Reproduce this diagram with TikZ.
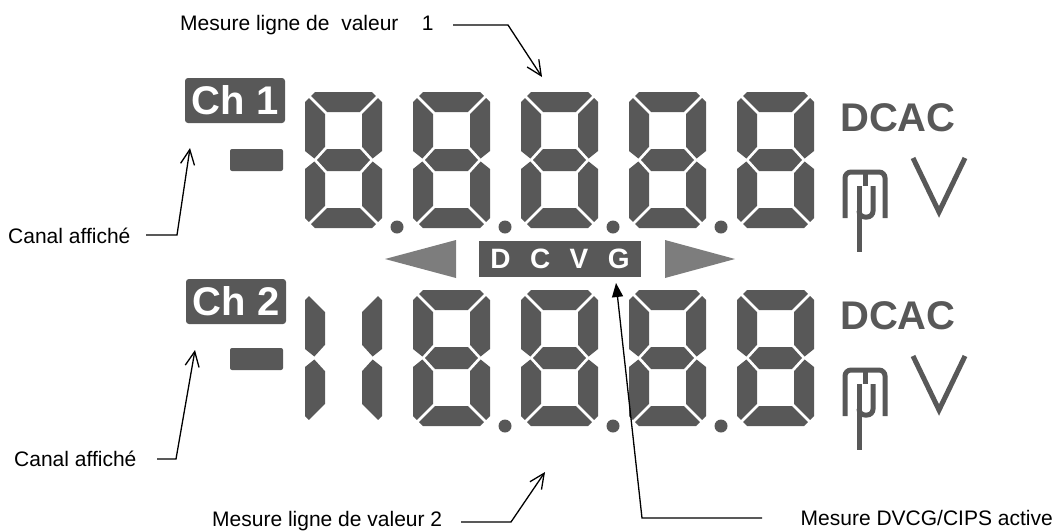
\documentclass[tikz,border=0pt]{standalone}
\usepackage{fontspec}
\setmainfont{Liberation Sans}
\usetikzlibrary{arrows.meta}
\definecolor{lcd}{RGB}{88,88,88}
\definecolor{lcdtri}{RGB}{125,125,125}

\tikzset{
  seg/.style={fill=lcd},
  % seven-segment pieces, local frame: 77 wide, 136 high, y downwards
  pics/sega/.style={code={\fill[seg] (10,0)--(67,0)--(70.95,3.95)--(54.9,20)--(22.1,20)--(6.05,3.95)--cycle;}},
  pics/segd/.style={code={\fill[seg] (10,136)--(67,136)--(70.95,132.05)--(54.9,116)--(22.1,116)--(6.05,132.05)--cycle;}},
  pics/segg/.style={code={\fill[seg] (12,68)--(22,57)--(55,57)--(65,68)--(55,79)--(22,79)--cycle;}},
  pics/segf/.style={code={\fill[seg] (0,10)--(3.95,6.05)--(20,22.1)--(20,54.8)--(9.35,66.5)--(0,59)--cycle;}},
  pics/sege/.style={code={\fill[seg] (0,126)--(3.95,129.95)--(20,113.9)--(20,81.2)--(9.35,69.5)--(0,77)--cycle;}},
  pics/segb/.style={code={\fill[seg] (77,10)--(73.05,6.05)--(57,22.1)--(57,54.8)--(67.65,66.5)--(77,59)--cycle;}},
  pics/segc/.style={code={\fill[seg] (77,126)--(73.05,129.95)--(57,113.9)--(57,81.2)--(67.65,69.5)--(77,77)--cycle;}},
  pics/eight/.style={code={\pic{sega};\pic{segb};\pic{segc};\pic{segd};\pic{sege};\pic{segf};\pic{segg};}},
  pics/twoones/.style={code={\pic{segf};\pic{sege};\pic{segb};\pic{segc};}},
  chbox/.style={fill=lcd, text=white, rounded corners=3pt, minimum width=100pt,
    minimum height=45pt, inner sep=0pt, font=\fontsize{40}{40}\selectfont\bfseries},
  unitlbl/.style={text=lcd, inner sep=0pt, font=\fontsize{40}{40}\selectfont\bfseries},
  lbl/.style={inner sep=0pt, font=\fontsize{21}{25}\selectfont},
  callout/.style={draw=black, line width=1.3pt},
  openhead/.style={-{Straight Barb[length=15pt,width=14pt,line width=1.3pt]}},
  fullhead/.style={-{Triangle[length=14pt,width=11pt]}},
  stroke/.style={draw=lcd, line width=5pt},
}

\begin{document}
\begin{tikzpicture}[x=1pt,y=-1pt]
\useasboundingbox (0,0) rectangle (1060,531);

% ---- channel labels and minus signs
\node[chbox] (ch1) at (235,100.5) {Ch 1};
\node[chbox] (ch2) at (236,301.5) {Ch 2};
\fill[lcd, rounded corners=2pt] (230,149) rectangle (283,171);
\fill[lcd, rounded corners=2pt] (230,348) rectangle (283,370);

% ---- upper line of digits
\foreach \x in {305,413,521,629,737} \pic at (\x,92) {eight};
\foreach \x in {397,505,613,721} \fill[lcd] (\x,227) circle[radius=6.5];

% ---- lower line of digits
\pic at (305,290) {twoones};
\foreach \x in {413,521,629,737} \pic at (\x,290) {eight};
\foreach \x in {505,613,721} \fill[lcd] (\x,426) circle[radius=6.5];

% ---- DCVG band with its two pointers
\fill[lcdtri] (385,259) -- (456,240) -- (456,278) -- cycle;
\fill[lcdtri] (665,240) -- (665,278) -- (735,259) -- cycle;
\node[fill=lcd, text=white, minimum width=162pt, minimum height=36pt, inner sep=0pt,
  font=\fontsize{28}{28}\selectfont\bfseries] (dcvg) at (560,259)
  {D\hspace{19.5pt}C\hspace{19.5pt}V\hspace{19.5pt}G};

% ---- unit annunciators
\foreach \dy/\n in {0/1,198/2}{
  \begin{scope}[yshift=-\dy pt]
    \node[unitlbl, anchor=base west] (dcac\n) at (840,131) {DCAC};
    % combined m / mu sign
    \draw[stroke, rounded corners=6pt] (845,218) -- (845,172) -- (885,172) -- (885,218);
    \draw[stroke] (865,172) -- (865,186);
    \draw[stroke] (859,186) -- (859,252);
    \draw[stroke, rounded corners=6pt] (859,212) -- (859,217) -- (873,217) -- (873,186);
    % volt
    \draw[stroke, line join=miter] (913,158) -- (939,212) -- (965,158);
  \end{scope}
}

% ---- callouts
\node[lbl, anchor=base west] (m1) at (180,30) {Mesure ligne de\ \ valeur\ \ \ \ 1};
\coordinate (m1a) at (453,25);
\coordinate (m1b) at (508,25);
\coordinate (m1c) at (542,77);
\draw[callout, openhead] (m1a) -- (m1b) -- (m1c);

\node[lbl, anchor=base west] (c1) at (8,243) {Canal affiché};
\coordinate (c1a) at (146,235);
\coordinate (c1b) at (177,235);
\coordinate (c1c) at (190,148);
\draw[callout, openhead] (c1a) -- (c1b) -- (c1c);

\node[lbl, anchor=base west] (c2) at (14,466) {Canal affiché};
\coordinate (c2a) at (157,459);
\coordinate (c2b) at (176,459);
\coordinate (c2c) at (195,350);
\draw[callout, openhead] (c2a) -- (c2b) -- (c2c);

\node[lbl, anchor=base west] (m2) at (212,526) {Mesure ligne de valeur 2};
\coordinate (m2a) at (461,522);
\coordinate (m2b) at (511,522);
\coordinate (m2c) at (545,472);
\draw[callout, openhead] (m2a) -- (m2b) -- (m2c);

\node[lbl, anchor=base east] (dv) at (1053,525) {Mesure DVCG/CIPS active};
\coordinate (dva) at (762,518);
\coordinate (dvb) at (642,518);
\coordinate (dvc) at (616,283);
\draw[callout, fullhead] (dva) -- (dvb) -- (dvc);
\end{tikzpicture}
\end{document}
